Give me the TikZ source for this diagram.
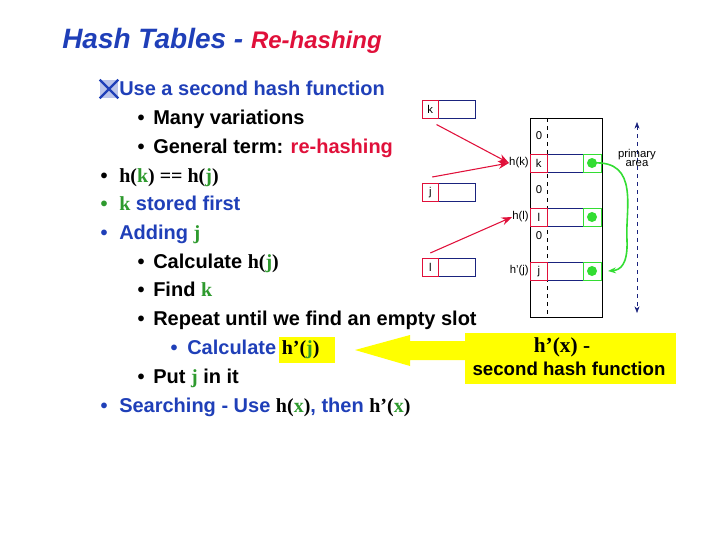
\documentclass[tikz,border=0pt]{standalone}
\usepackage{fontspec}
\setmainfont{Liberation Sans}
\newfontfamily\tms{Liberation Serif}
\usetikzlibrary{arrows.meta}
\definecolor{tblue}{HTML}{1F3FB8}
\definecolor{tred}{HTML}{E0103A}
\definecolor{tgreen}{HTML}{2E9A2E}
\definecolor{yel}{HTML}{FFFF00}
\definecolor{lgreen}{HTML}{33DD33}
\definecolor{nblue}{HTML}{1A237E}
\begin{document}
\begin{tikzpicture}[x=0.75pt,y=-0.75pt,
  txt/.style={anchor=base west,inner sep=0pt,font=\bfseries\fontsize{15}{18}\selectfont},
  bul/.style={anchor=base,inner sep=0pt,font=\bfseries\fontsize{15}{18}\selectfont},
  sm/.style={inner sep=0pt,font=\fontsize{8.5}{9}\selectfont},
  rarr/.style={draw=tred,thick,-{Stealth[length=8pt,width=6pt]}},
  redc/.style={draw=tred,fill=white},
  bluc/.style={draw=nblue},
  grc/.style={draw=lgreen}]
\useasboundingbox (0,0) rectangle (720,540);
\node[anchor=base west,inner sep=0pt,font=\bfseries\itshape\fontsize{21}{24}\selectfont,text=tblue] (title) at (62,48) {Hash Tables - \textcolor{tred}{\fontsize{18}{20}\selectfont Re-hashing}};
% icon
\node[fill=tblue!30,minimum size=13.5pt,inner sep=0pt] (icon) at (109,89) {};
\draw[tblue,line width=1.6pt] (icon.north west) -- (icon.south east) (icon.north east) -- (icon.south west);
\node[txt,text=tblue] (l1) at (119,95) {Use a second hash function};
\node[bul] (b2) at (141,124) {•}; \node[txt] (l2) at (153,124) {Many variations};
\node[bul] (b3) at (141,153) {•}; \node[txt] (l3) at (153,153) {General term: \textcolor{tred}{re-hashing}};
\node[bul] (b4) at (104,182) {•}; \node[txt] (l4) at (119,182) {\tms h(\textcolor{tgreen}{k}) == h(\textcolor{tgreen}{j})};
\node[bul,text=tgreen] (b5) at (104,210) {•}; \node[txt,text=tblue] (l5) at (119,210) {\textcolor{tgreen}{\tms k} stored first};
\node[bul,text=tblue] (b6) at (104,239) {•}; \node[txt,text=tblue] (l6) at (119,239) {Adding \textcolor{tgreen}{\tms j}};
\node[bul] (b7) at (141,268) {•}; \node[txt] (l7) at (153,268) {Calculate {\tms h(\textcolor{tgreen}{j})}};
\node[bul] (b8) at (141,296) {•}; \node[txt] (l8) at (153,296) {Find \textcolor{tgreen}{\tms k}};
\node[bul] (b9) at (141,325) {•}; \node[txt] (l9) at (153,325) {Repeat until we find an empty slot};
\fill[yel] (279,337) rectangle (335,363);
\node[bul,text=tblue] (b10) at (174,354) {•}; \node[txt,text=tblue] (l10) at (187,354) {Calculate \textcolor{black}{\tms h’(\textcolor{tgreen}{j})}};
\node[bul] (b11) at (141,383) {•}; \node[txt] (l11) at (153,383) {Put \textcolor{tgreen}{\tms j} in it};
\node[bul,text=tblue] (b12) at (104,412) {•}; \node[txt,text=tblue] (l12) at (119,412) {Searching - Use \textcolor{black}{\tms h(\textcolor{tgreen}{x})}, then \textcolor{black}{\tms h’(\textcolor{tgreen}{x})}};
% yellow arrow and box
\fill[yel] (355,350) -- (410,335) -- (410,341) -- (466,341) -- (466,360) -- (410,360) -- (410,366) -- cycle;
\fill[yel] (465,333) rectangle (676,384);
\node[anchor=base,inner sep=0pt,font=\bfseries\fontsize{16}{18}\selectfont\tms] (hx) at (562,352) {h’(x) -};
\node[anchor=base,inner sep=0pt,font=\bfseries\fontsize{14}{16}\selectfont] (shf) at (569,375) {second hash function};
% small boxes
\foreach \n/\y/\t in {bk/100/k,bj/183/j,bl/258/l}{
  \draw[nblue] (438,\y) rectangle (475,\y+18);
  \node[redc,draw,minimum width=12pt,minimum height=13.5pt,anchor=north west,sm,inner sep=0pt] (\n) at (422,\y) {\t};
}
% table
\draw[black] (530,118) rectangle (602,317);
\draw[black,dashed] (547,118) -- (547,317);
\foreach \y in {136,190,236}{\node[sm] at (539,\y) {0};}
\foreach \n/\y/\t/\lab in {tk/154/k/h(k),tl/208/l/h(l),tj/262/j/h’(j)}{
  \draw[bluc,fill=white] (547,\y) rectangle (583,\y+18);
  \draw[grc,fill=white] (583,\y) rectangle (601,\y+18);
  \fill[lgreen] (592,\y+9) circle (5);
  \node[redc,draw,minimum width=12.75pt,minimum height=13.5pt,anchor=north west,sm] (\n) at (530,\y) {\t};
  \node[sm,anchor=east] (\n lab) at (529,\y+9) {\lab};
}
\coordinate (gk) at (593,163);
\coordinate (gj) at (608,271);
\draw[lgreen,line width=1.2pt,-{Stealth[length=6pt]}] (gk) .. controls (640,160) and (625,210) .. (627,240) .. controls (628,265) and (620,270) .. (gj);
\coordinate (pa1) at (637,122); \coordinate (pa2) at (637,313);
\draw[nblue,dashed,{Stealth[length=5pt]}-{Stealth[length=5pt]}] (pa1) -- (pa2);
\node[sm,align=center,font=\fontsize{8.5}{6}\selectfont] (pri) at (637,158) {primary\\area};
% red arrows
\draw[rarr] (bk.south east) ++(-2,6) -- (tklab.west);
\draw[rarr] (bj.north) ++(2,-6) -- (tklab.west);
\draw[rarr] (bl.north) ++(0,-5) -- (tllab.west);
\end{tikzpicture}
\end{document}
